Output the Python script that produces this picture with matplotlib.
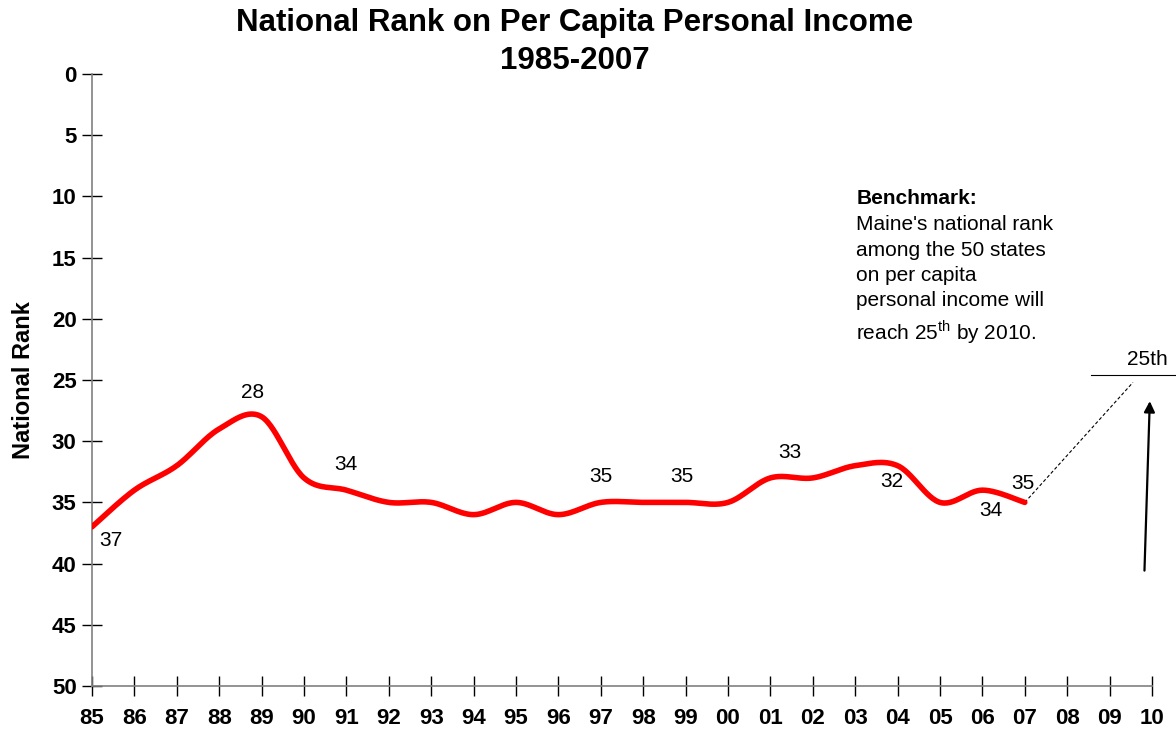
import numpy as np
import matplotlib.pyplot as plt

plt.rcParams['font.family'] = ['Liberation Sans', 'DejaVu Sans']

years = ['85', '86', '87', '88', '89', '90', '91', '92', '93', '94', '95', '96', '97',
         '98', '99', '00', '01', '02', '03', '04', '05', '06', '07', '08', '09', '10']
rank = [37, 34, 32, 29, 28, 33, 34, 35, 35, 36, 35, 36, 35,
        35, 35, 35, 33, 33, 32, 32, 35, 34, 35]
target_rank = 25

# which points get a value label, and where the label sits (pixels from the point)
labels = {0: (19, -14), 4: (-9, 24), 6: (0, 26), 12: (0, 26), 14: (-4, 26),
          16: (19, 25), 19: (-6, -16), 21: (8, -20), 22: (-2, 19)}


def smooth(x, y, n=30):
    # bezier smoothing similar to a spreadsheet "smoothed line"
    x = np.asarray(x, float)
    y = np.asarray(y, float)
    px = np.concatenate([[x[0]], x, [x[-1]]])
    py = np.concatenate([[y[0]], y, [y[-1]]])
    xs, ys = [], []
    t = np.linspace(0, 1, n)
    for i in range(len(x) - 1):
        p0 = np.array([px[i + 1], py[i + 1]])
        p3 = np.array([px[i + 2], py[i + 2]])
        c1 = p0 + (p3 - np.array([px[i], py[i]])) / 6
        c2 = p3 - (np.array([px[i + 3], py[i + 3]]) - p0) / 6
        b = ((1 - t)**3)[:, None] * p0 + (3 * (1 - t)**2 * t)[:, None] * c1 \
            + (3 * (1 - t) * t**2)[:, None] * c2 + (t**3)[:, None] * p3
        xs.append(b[:, 0])
        ys.append(b[:, 1])
    return np.concatenate(xs), np.concatenate(ys)


x = np.arange(len(rank))
sx, sy = smooth(x, rank)

fig = plt.figure(figsize=(11.76, 7.29), dpi=100)
ax = fig.add_axes([0.0782, 0.059, 0.9014, 0.8395])

ax.plot(sx, sy, color='#ff0000', lw=4.0, solid_capstyle='round', zorder=3)

for i, (dx, dy) in labels.items():
    ax.annotate(str(rank[i]), (x[i], rank[i]), xytext=(dx, dy), textcoords='offset pixels',
                ha='center', va='center', fontsize=15)

# projection to the 2010 target
ax.plot([x[-1], 24.55], [rank[-1], 25.2], ls=(0, (3, 2)), color='black', lw=0.8)
ax.plot([23.55, 26.0], [24.6, 24.6], color='black', lw=0.8, clip_on=False)
ax.text(24.9, 23.3, '25th', ha='center', va='center', fontsize=15)
ax.annotate('', xy=(24.95, 26.5), xytext=(24.82, 40.8),
            arrowprops=dict(arrowstyle='-|>', color='black', lw=1.6, mutation_scale=16))

ax.text(0.721, 0.796, 'Benchmark:', transform=ax.transAxes, fontsize=15, fontweight='bold',
        va='center')
ax.text(0.721, 0.769,
        "Maine's national rank\namong the 50 states\non per capita\npersonal income will\n"
        "reach 25$^{\\mathregular{th}}$ by 2010.",
        transform=ax.transAxes, fontsize=15, va='top', linespacing=1.41)

ax.set_xlim(0, len(years) - 1)
ax.set_ylim(50, 0)
ax.set_xticks(np.arange(len(years)))
ax.set_xticklabels(years)
ax.set_yticks(np.arange(0, 51, 5))
for lab in ax.get_xticklabels() + ax.get_yticklabels():
    lab.set_fontweight('bold')
ax.tick_params(axis='x', direction='inout', length=14, width=1, labelsize=16, pad=9)
ax.tick_params(axis='y', direction='inout', length=14, width=1, labelsize=16, pad=4)

for s in ['top', 'right']:
    ax.spines[s].set_visible(False)
for s in ['left', 'bottom']:
    ax.spines[s].set_color('#808080')
    ax.spines[s].set_linewidth(1.2)

ax.set_ylabel('National Rank', fontsize=17, fontweight='bold', labelpad=12)
fig.text(0.489, 0.9424, 'National Rank on Per Capita Personal Income\n1985-2007',
         ha='center', va='center', fontsize=22.5, fontweight='bold', linespacing=1.35)

fig.savefig('out.png', dpi=100)
